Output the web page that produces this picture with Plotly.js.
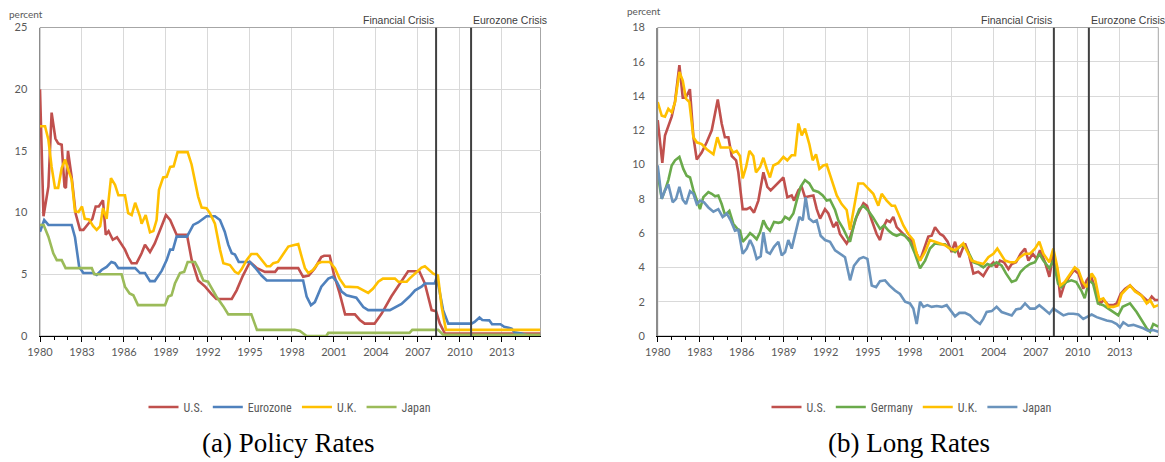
<!DOCTYPE html>
<html><head><meta charset="utf-8">
<script src="https://cdn.plot.ly/plotly-3.0.1.min.js"></script>
<style>html,body{margin:0;padding:0;background:#fff}#chart{width:1165px;height:462px}</style>
</head><body><div id="chart"></div>
<script>
// ---- Policy rates (percent), [year, value] ----
const policyUS = [[1980,20.0],[1980.25,9.7],[1980.6,12.1],[1980.83,18.1],[1981.1,16.0],[1981.3,15.6],[1981.55,15.5],[1981.75,12.1],[1981.85,12.0],[1982.0,15.0],[1982.26,12.9],[1982.55,9.9],[1982.86,8.6],[1983.1,8.6],[1983.45,9.1],[1983.74,9.5],[1983.98,10.5],[1984.2,10.5],[1984.5,11.0],[1984.7,8.2],[1984.9,8.5],[1985.2,7.8],[1985.5,8.0],[1985.8,7.5],[1986.07,7.0],[1986.3,6.4],[1986.55,5.9],[1986.9,5.9],[1987.26,6.7],[1987.5,7.4],[1987.86,6.8],[1988.2,7.5],[1988.57,8.5],[1989.0,9.8],[1989.3,9.4],[1989.76,8.2],[1990.5,8.2],[1990.83,6.2],[1991.3,4.5],[1991.8,4.0],[1992.26,3.4],[1992.6,3.0],[1993.7,3.0],[1994.05,3.7],[1994.5,4.9],[1995.0,6.0],[1995.5,5.5],[1996.07,5.2],[1996.8,5.2],[1997.0,5.5],[1998.45,5.5],[1998.8,4.8],[1999.2,4.9],[1999.64,5.5],[2000.1,6.4],[2000.3,6.5],[2000.7,6.5],[2001.0,5.0],[2001.4,3.5],[2001.8,1.75],[2002.5,1.75],[2002.85,1.3],[2003.2,1.0],[2003.9,1.0],[2004.4,1.8],[2005.1,3.2],[2005.8,4.4],[2006.3,5.25],[2007.1,5.25],[2007.5,4.25],[2007.98,2.1],[2008.3,2.0],[2008.57,1.0],[2008.93,0.2],[2015.76,0.2]];
const policyEuro = [[1980,8.45],[1980.3,9.4],[1980.6,9.0],[1982.26,9.0],[1982.5,8.0],[1982.8,5.6],[1983.1,5.1],[1983.8,5.1],[1984.05,4.95],[1984.4,5.35],[1984.76,5.6],[1985.1,6.0],[1985.35,5.9],[1985.6,5.5],[1986.8,5.5],[1987.14,5.1],[1987.5,5.1],[1987.86,4.45],[1988.2,4.45],[1988.7,5.3],[1989.05,6.15],[1989.3,7.0],[1989.5,7.0],[1989.76,8.05],[1990.5,8.05],[1990.95,9.0],[1991.3,9.2],[1991.55,9.4],[1991.9,9.7],[1992.5,9.7],[1992.86,9.4],[1993.2,8.45],[1993.45,7.4],[1993.7,6.7],[1993.93,6.6],[1994.2,6.0],[1995.0,6.0],[1995.36,5.55],[1995.83,4.9],[1996.2,4.5],[1998.8,4.5],[1999.05,3.2],[1999.36,2.5],[1999.64,2.75],[2000.1,4.0],[2000.6,4.65],[2000.9,4.8],[2001.2,4.4],[2001.55,3.6],[2001.9,3.3],[2002.6,3.1],[2003.1,2.35],[2003.45,2.1],[2005.0,2.1],[2005.36,2.3],[2005.83,2.6],[2006.4,3.2],[2006.8,3.7],[2007.26,4.0],[2007.5,4.25],[2008.2,4.25],[2008.35,4.8],[2008.8,2.1],[2009.17,1.0],[2010.83,1.0],[2011.05,1.14],[2011.4,1.5],[2011.6,1.3],[2012.1,1.27],[2012.3,0.95],[2012.9,0.95],[2013.17,0.75],[2013.7,0.6],[2013.9,0.3],[2014.4,0.2],[2014.86,0.05],[2015.76,0.05]];
const policyUK = [[1980,17.0],[1980.36,17.0],[1980.6,15.9],[1980.83,13.7],[1981.07,12.0],[1981.3,12.0],[1981.55,13.6],[1981.8,14.3],[1982.0,13.5],[1982.26,12.7],[1982.5,10.1],[1982.75,10.05],[1983.0,10.5],[1983.2,9.5],[1983.5,9.45],[1983.8,8.9],[1984.05,8.6],[1984.3,8.9],[1984.5,10.35],[1984.76,9.5],[1985.07,12.8],[1985.36,12.25],[1985.6,11.4],[1986.07,11.4],[1986.3,9.95],[1986.55,9.8],[1986.8,10.8],[1987.14,9.7],[1987.26,9.1],[1987.55,9.8],[1987.86,8.4],[1988.1,8.5],[1988.33,9.4],[1988.5,11.85],[1988.8,12.85],[1989.05,12.9],[1989.3,13.7],[1989.55,13.75],[1989.83,14.9],[1990.55,14.9],[1990.83,13.9],[1991.07,12.65],[1991.3,11.3],[1991.55,10.4],[1991.9,10.35],[1992.14,9.95],[1992.5,9.1],[1992.86,7.0],[1993.1,5.9],[1993.57,5.75],[1993.93,5.2],[1994.17,5.05],[1994.4,5.4],[1994.76,6.15],[1995.1,6.65],[1995.5,6.65],[1995.83,6.15],[1996.2,5.65],[1996.45,5.65],[1996.67,5.9],[1997.0,6.0],[1997.4,6.7],[1997.74,7.25],[1998.1,7.35],[1998.45,7.45],[1998.7,6.4],[1998.93,5.5],[1999.17,5.1],[1999.5,5.35],[1999.88,5.9],[2000.1,6.0],[2000.7,6.0],[2001.07,5.5],[2001.4,4.65],[2001.8,4.0],[2002.7,3.95],[2003.1,3.7],[2003.45,3.5],[2003.8,3.85],[2004.17,4.4],[2004.5,4.65],[2005.36,4.65],[2005.6,4.4],[2006.2,4.4],[2006.4,4.65],[2006.8,5.05],[2007.26,5.55],[2007.5,5.65],[2007.74,5.4],[2008.1,5.05],[2008.43,4.9],[2008.7,2.35],[2009.0,0.5],[2015.76,0.5]];
const policyJapan = [[1980,9.0],[1980.26,9.0],[1980.6,8.05],[1980.95,6.7],[1981.2,6.15],[1981.55,6.15],[1981.83,5.5],[1983.7,5.5],[1983.88,5.0],[1985.83,5.0],[1986.07,4.0],[1986.4,3.45],[1986.67,3.3],[1987.0,2.5],[1988.93,2.5],[1989.17,3.2],[1989.4,3.3],[1989.64,4.25],[1990.0,5.1],[1990.3,5.2],[1990.55,6.0],[1991.07,6.0],[1991.3,5.5],[1991.67,4.5],[1992.0,4.4],[1992.4,3.6],[1992.6,3.2],[1993.1,2.4],[1993.45,1.75],[1995.1,1.75],[1995.5,0.5],[1998.2,0.5],[1998.57,0.4],[1999.05,0.0],[2000.45,0.0],[2000.6,0.25],[2006.4,0.25],[2006.6,0.5],[2008.45,0.5],[2008.8,0.1],[2015.76,0.1]];

// ---- Long rates (percent), [year, value] ----
const longUS = [[1980.0,12.6],[1980.33,10.1],[1980.52,11.7],[1980.76,12.2],[1981.0,12.8],[1981.24,13.7],[1981.55,15.8],[1981.79,13.9],[1982.0,13.9],[1982.3,14.4],[1982.55,11.6],[1982.79,10.3],[1983.14,10.7],[1983.5,11.3],[1983.86,12.0],[1984.29,13.8],[1984.57,12.4],[1984.8,11.6],[1985.05,11.6],[1985.29,10.5],[1985.6,10.25],[1985.76,9.55],[1986.07,7.4],[1986.36,7.4],[1986.6,7.5],[1986.88,7.2],[1987.19,7.9],[1987.55,9.55],[1987.83,8.7],[1988.07,8.5],[1988.31,8.7],[1988.62,8.9],[1988.98,9.25],[1989.26,8.1],[1989.57,8.2],[1989.74,7.9],[1990.05,8.5],[1990.29,8.7],[1990.52,8.1],[1990.83,8.15],[1991.12,8.2],[1991.36,7.4],[1991.6,6.85],[1991.95,7.4],[1992.19,7.15],[1992.55,6.35],[1992.79,6.65],[1993.02,5.95],[1993.5,5.4],[1993.74,5.75],[1994.2,6.95],[1994.7,7.75],[1994.95,7.6],[1995.29,6.75],[1995.64,5.95],[1995.88,5.6],[1996.12,6.35],[1996.36,6.75],[1996.6,6.65],[1996.83,6.95],[1997.07,6.35],[1997.43,6.05],[1997.79,5.75],[1998.14,5.6],[1998.5,4.8],[1998.74,4.4],[1999.1,5.2],[1999.33,5.8],[1999.57,5.85],[1999.81,6.35],[2000.17,5.95],[2000.4,5.85],[2000.71,5.5],[2001.0,4.9],[2001.24,5.5],[2001.55,4.6],[2001.79,5.1],[2001.95,5.4],[2002.19,4.9],[2002.55,3.65],[2002.9,3.75],[2003.26,3.5],[2003.62,4.0],[2003.98,4.3],[2004.2,4.0],[2004.45,4.4],[2004.74,4.3],[2005.05,3.9],[2005.29,4.2],[2005.6,4.3],[2005.93,4.8],[2006.24,5.1],[2006.48,4.4],[2006.79,4.8],[2007.07,4.5],[2007.31,5.0],[2007.67,4.3],[2007.98,3.45],[2008.26,4.8],[2008.55,3.85],[2008.76,2.25],[2009.07,3.05],[2009.4,3.45],[2009.74,3.85],[2010.05,3.65],[2010.4,2.75],[2010.64,3.25],[2010.93,3.55],[2011.26,2.75],[2011.6,1.9],[2011.88,2.1],[2012.19,1.8],[2012.55,1.8],[2012.79,1.9],[2013.07,2.45],[2013.38,2.75],[2013.74,2.95],[2014.1,2.65],[2014.45,2.45],[2014.81,2.2],[2015.05,2.0],[2015.29,2.3],[2015.52,2.1],[2015.76,2.1]];
const longGermany = [[1980.0,9.45],[1980.29,8.0],[1980.52,8.5],[1980.76,9.1],[1981.0,9.95],[1981.24,10.25],[1981.55,10.45],[1981.83,9.75],[1982.07,9.35],[1982.31,9.25],[1982.55,8.5],[1982.79,7.95],[1983.02,7.4],[1983.26,8.1],[1983.62,8.4],[1983.86,8.3],[1984.1,8.15],[1984.33,8.2],[1984.57,7.7],[1984.81,7.05],[1985.12,7.3],[1985.4,6.55],[1985.69,6.25],[1985.88,6.15],[1986.07,5.5],[1986.36,5.75],[1986.6,6.0],[1986.83,5.85],[1987.07,5.65],[1987.31,6.05],[1987.55,6.75],[1987.79,6.35],[1988.02,6.15],[1988.31,6.65],[1988.62,6.6],[1988.86,6.65],[1989.1,6.95],[1989.4,6.8],[1989.69,7.15],[1989.93,7.9],[1990.21,8.7],[1990.52,9.1],[1990.83,8.9],[1991.12,8.5],[1991.48,8.4],[1991.79,8.2],[1992.07,7.9],[1992.31,7.95],[1992.67,7.35],[1992.9,6.75],[1993.26,6.25],[1993.55,5.75],[1993.74,5.5],[1994.1,6.75],[1994.4,7.4],[1994.69,7.6],[1995.05,7.3],[1995.36,6.95],[1995.64,6.55],[1995.88,6.25],[1996.17,6.45],[1996.48,6.15],[1996.79,5.95],[1997.07,5.85],[1997.36,5.95],[1997.67,5.85],[1998.02,5.5],[1998.38,4.8],[1998.74,3.95],[1999.1,4.4],[1999.45,5.1],[1999.81,5.4],[2000.17,5.35],[2000.52,5.35],[2000.88,5.1],[2001.24,4.9],[2001.55,5.2],[2001.83,5.35],[2002.19,4.9],[2002.55,4.3],[2002.9,4.2],[2003.26,4.0],[2003.55,4.2],[2003.86,4.1],[2004.21,4.3],[2004.57,4.1],[2004.88,3.65],[2005.29,3.15],[2005.6,3.25],[2005.93,3.75],[2006.24,4.0],[2006.6,4.2],[2006.95,4.3],[2007.26,4.8],[2007.55,4.4],[2007.98,3.95],[2008.26,4.4],[2008.6,3.05],[2008.83,2.85],[2009.19,3.15],[2009.55,3.25],[2009.9,3.15],[2010.26,2.65],[2010.5,2.2],[2010.83,3.25],[2011.1,3.05],[2011.45,1.9],[2011.83,1.8],[2012.19,1.6],[2012.55,1.4],[2012.9,1.2],[2013.21,1.7],[2013.74,1.9],[2014.21,1.4],[2014.57,0.9],[2014.93,0.45],[2015.17,0.25],[2015.4,0.7],[2015.76,0.55]];
const longUK = [[1980.0,13.65],[1980.29,12.85],[1980.52,12.8],[1980.76,13.25],[1981.0,13.05],[1981.24,13.65],[1981.55,15.4],[1981.79,14.9],[1982.02,13.85],[1982.26,13.65],[1982.55,11.6],[1982.79,11.3],[1983.14,11.2],[1983.5,10.9],[1983.98,10.6],[1984.26,11.6],[1984.5,11.0],[1985.17,11.0],[1985.4,10.7],[1985.64,10.8],[1985.88,10.5],[1986.07,9.2],[1986.31,9.85],[1986.55,10.8],[1986.83,10.5],[1987.02,9.55],[1987.31,9.85],[1987.55,10.4],[1987.79,9.75],[1988.02,9.25],[1988.26,9.95],[1988.62,10.1],[1988.98,10.45],[1989.26,10.25],[1989.57,10.55],[1989.81,10.55],[1990.05,12.4],[1990.29,11.7],[1990.52,12.1],[1990.83,11.2],[1991.07,10.25],[1991.31,10.6],[1991.55,9.75],[1991.83,9.95],[1992.07,10.0],[1992.43,9.1],[1992.79,8.2],[1993.14,7.7],[1993.5,7.35],[1993.74,6.2],[1994.02,7.6],[1994.33,8.9],[1994.69,8.9],[1995.05,8.6],[1995.4,8.3],[1995.76,7.6],[1996.0,8.3],[1996.36,7.9],[1996.71,7.6],[1996.95,7.6],[1997.19,7.15],[1997.55,6.45],[1997.9,5.95],[1998.26,5.6],[1998.5,4.8],[1998.74,4.4],[1999.1,4.9],[1999.45,5.6],[1999.81,5.5],[2000.17,5.4],[2000.52,5.3],[2000.88,5.1],[2001.24,5.0],[2001.55,5.2],[2001.83,5.4],[2002.07,5.0],[2002.43,4.4],[2002.79,4.3],[2003.26,4.2],[2003.62,4.6],[2003.98,4.8],[2004.26,5.1],[2004.57,4.7],[2004.81,4.4],[2005.17,4.3],[2005.52,4.3],[2005.88,4.6],[2006.24,4.8],[2006.6,4.8],[2006.95,5.1],[2007.26,5.5],[2007.55,4.8],[2007.98,4.3],[2008.26,5.1],[2008.55,4.0],[2008.76,2.95],[2009.07,3.15],[2009.43,3.55],[2009.79,4.0],[2010.05,3.85],[2010.36,3.15],[2010.64,2.85],[2011.0,3.65],[2011.24,3.35],[2011.55,2.1],[2011.83,2.2],[2012.19,1.7],[2012.55,1.7],[2012.9,1.8],[2013.14,2.45],[2013.74,2.95],[2014.1,2.6],[2014.57,2.35],[2014.93,1.9],[2015.17,2.1],[2015.45,1.7],[2015.76,1.8]];
const longJapan = [[1980.0,9.95],[1980.29,8.0],[1980.52,8.5],[1980.76,8.85],[1981.07,7.8],[1981.31,8.0],[1981.55,8.7],[1981.79,7.95],[1982.02,7.7],[1982.31,8.45],[1982.55,8.3],[1982.79,7.7],[1983.02,7.9],[1983.31,7.8],[1983.62,7.5],[1983.98,7.25],[1984.33,7.4],[1984.64,6.95],[1984.93,7.15],[1985.21,6.75],[1985.52,6.15],[1985.76,6.2],[1986.07,4.8],[1986.36,5.1],[1986.6,5.6],[1986.83,5.2],[1987.07,4.5],[1987.36,4.65],[1987.55,6.05],[1987.79,4.9],[1988.02,4.8],[1988.31,5.2],[1988.62,5.5],[1988.86,4.7],[1989.1,4.9],[1989.33,5.6],[1989.57,5.1],[1989.81,5.95],[1990.12,6.95],[1990.36,6.75],[1990.57,8.1],[1990.81,6.85],[1991.12,6.65],[1991.36,6.75],[1991.64,5.85],[1991.95,5.6],[1992.31,5.5],[1992.67,5.0],[1993.02,4.8],[1993.38,4.6],[1993.74,3.25],[1994.02,4.1],[1994.4,4.5],[1994.69,4.6],[1994.98,4.5],[1995.29,2.95],[1995.6,2.85],[1995.88,3.2],[1996.24,3.25],[1996.55,2.95],[1996.95,2.65],[1997.31,2.45],[1997.67,2.0],[1998.02,1.9],[1998.26,1.6],[1998.5,0.7],[1998.74,2.0],[1998.98,1.7],[1999.26,1.8],[1999.57,1.7],[1999.93,1.75],[2000.29,1.7],[2000.64,1.8],[2001.0,1.4],[2001.24,1.15],[2001.55,1.35],[2001.95,1.35],[2002.31,1.2],[2002.67,0.9],[2003.02,0.7],[2003.26,1.0],[2003.5,1.4],[2003.86,1.45],[2004.21,1.7],[2004.57,1.4],[2004.93,1.3],[2005.29,1.2],[2005.6,1.55],[2005.93,1.6],[2006.24,1.9],[2006.6,1.6],[2006.95,1.6],[2007.26,1.8],[2007.55,1.6],[2007.98,1.3],[2008.26,1.6],[2008.6,1.4],[2008.98,1.2],[2009.33,1.3],[2009.69,1.3],[2010.05,1.25],[2010.4,1.0],[2010.64,1.1],[2011.0,1.25],[2011.36,1.1],[2011.71,1.0],[2012.07,0.9],[2012.43,0.85],[2012.79,0.7],[2013.02,0.5],[2013.26,0.8],[2013.62,0.6],[2013.98,0.65],[2014.33,0.55],[2014.69,0.45],[2015.05,0.3],[2015.4,0.35],[2015.76,0.25]];

const policyNames = ['U.S.', 'Eurozone', 'U.K.', 'Japan'];
const longNames = ['U.S.', 'Germany', 'U.K.', 'Japan'];
const crisisEvents = [['Financial Crisis', 2008.3], ['Eurozone Crisis', 2010.8]];
const captions = ['(a) Policy Rates', '(b) Long Rates'];
const yUnit = 'percent';

const policyColors = ['#C0504D', '#4F81BD', '#FFC000', '#9BBB59'];
const longColors = ['#C0504D', '#6AAA4B', '#FFC000', '#6A93BC'];

const xs = s => s.map(p => p[0]);
const ys = s => s.map(p => p[1]);

const traces = [];
[policyUS, policyEuro, policyUK, policyJapan].forEach((s, i) => {
  traces.push({x: xs(s), y: ys(s), name: policyNames[i], type: 'scatter', mode: 'lines',
    xaxis: 'x', yaxis: 'y', legend: 'legend', line: {color: policyColors[i], width: 2.6}, hoverinfo: 'skip'});
});
[longUS, longGermany, longUK, longJapan].forEach((s, i) => {
  traces.push({x: xs(s), y: ys(s), name: longNames[i], type: 'scatter', mode: 'lines',
    xaxis: 'x2', yaxis: 'y2', legend: 'legend2', line: {color: longColors[i], width: 2.6}, hoverinfo: 'skip'});
});

const tickFont = {family: 'Lato, "Open Sans", sans-serif', size: 11, color: '#595959'};
const W = 1165, H = 462;
const yDom = [(H - 336) / H, (H - 27.5) / H];

function xAxis(dom, anchor) {
  return {domain: dom, anchor: anchor, range: [1980, 2015.76], tickmode: 'linear', tick0: 1980, dtick: 3,
    ticks: 'outside', ticklen: 5, tickcolor: '#000', tickwidth: 1, showline: true, linecolor: '#000', linewidth: 1.3,
    showgrid: true, gridcolor: '#d9d9d9', gridwidth: 1, zeroline: false, tickfont: tickFont,
    minor: {tickmode: 'linear', tick0: 1980, dtick: 1, ticks: 'outside', ticklen: 3, tickcolor: '#000', showgrid: false},
    fixedrange: true};
}
function yAxis(anchor, maxv, step) {
  return {domain: yDom, anchor: anchor, range: [0, maxv], tickmode: 'linear', tick0: 0, dtick: step,
    showline: true, linecolor: '#8c8c8c', linewidth: 1.5, showgrid: true, gridcolor: '#d9d9d9', gridwidth: 1,
    zeroline: false, ticks: '', tickfont: tickFont, ticklabelstandoff: 9, fixedrange: true};
}

const shapes = [];
const annotations = [];
[['x', 'y', 25], ['x2', 'y2', 18]].forEach(([xa, ya, top]) => {
  shapes.push({type: 'rect', xref: xa + ' domain', yref: ya + ' domain', x0: 0, x1: 1, y0: 0, y1: 1,
    line: {color: '#a6a6a6', width: 1}, layer: 'below'});
  crisisEvents.forEach(([label, yr], k) => {
    shapes.push({type: 'line', xref: xa, yref: ya, x0: yr, x1: yr, y0: 0, y1: top,
      line: {color: '#404040', width: 2}, layer: 'above'});
    annotations.push({text: label, xref: xa, yref: 'paper', x: yr, y: (H - 20) / H,
      xanchor: k === 0 ? 'right' : 'left', yanchor: 'middle', showarrow: false,
      font: {family: '"Liberation Sans", Arial, sans-serif', size: 10.5, color: '#404040'}});
  });
});
annotations.push({text: yUnit, xref: 'paper', yref: 'paper', x: 7 / W, y: (H - 14) / H, xanchor: 'left', yanchor: 'middle',
  showarrow: false, font: {family: 'Lato, sans-serif', size: 10, color: '#595959'}});
annotations.push({text: yUnit, xref: 'paper', yref: 'paper', x: 625 / W, y: (H - 11) / H, xanchor: 'left', yanchor: 'middle',
  showarrow: false, font: {family: 'Lato, sans-serif', size: 10, color: '#595959'}});
annotations.push({text: captions[0], xref: 'paper', yref: 'paper', x: 288 / W, y: (H - 443) / H, xanchor: 'center', yanchor: 'middle',
  showarrow: false, font: {family: '"Liberation Serif", "DejaVu Serif", serif', size: 27, color: '#000'}});
annotations.push({text: captions[1], xref: 'paper', yref: 'paper', x: 909 / W, y: (H - 443) / H, xanchor: 'center', yanchor: 'middle',
  showarrow: false, font: {family: '"Liberation Serif", "DejaVu Serif", serif', size: 27, color: '#000'}});

const legendFont = {family: '"Liberation Sans Narrow", "Roboto Condensed", Lato, sans-serif', size: 12, color: '#595959'};
const layout = {
  width: W, height: H, margin: {l: 0, r: 0, t: 0, b: 0}, paper_bgcolor: '#fff', plot_bgcolor: '#fff',
  showlegend: true,
  xaxis: xAxis([40 / W, 540.5 / W], 'y'),
  yaxis: yAxis('x', 25, 5),
  xaxis2: xAxis([657.7 / W, 1158.3 / W], 'y2'),
  yaxis2: yAxis('x2', 18, 2),
  legend: {orientation: 'h', x: 290 / W, xanchor: 'center', y: (H - 407) / H, yanchor: 'middle',
    font: legendFont, bgcolor: 'rgba(0,0,0,0)', itemwidth: 30, tracegroupgap: 0},
  legend2: {orientation: 'h', x: 912 / W, xanchor: 'center', y: (H - 407) / H, yanchor: 'middle',
    font: legendFont, bgcolor: 'rgba(0,0,0,0)', itemwidth: 30, tracegroupgap: 0},
  shapes: shapes, annotations: annotations
};
Plotly.newPlot('chart', traces, layout, {displayModeBar: false, staticPlot: true});
</script></body></html>
